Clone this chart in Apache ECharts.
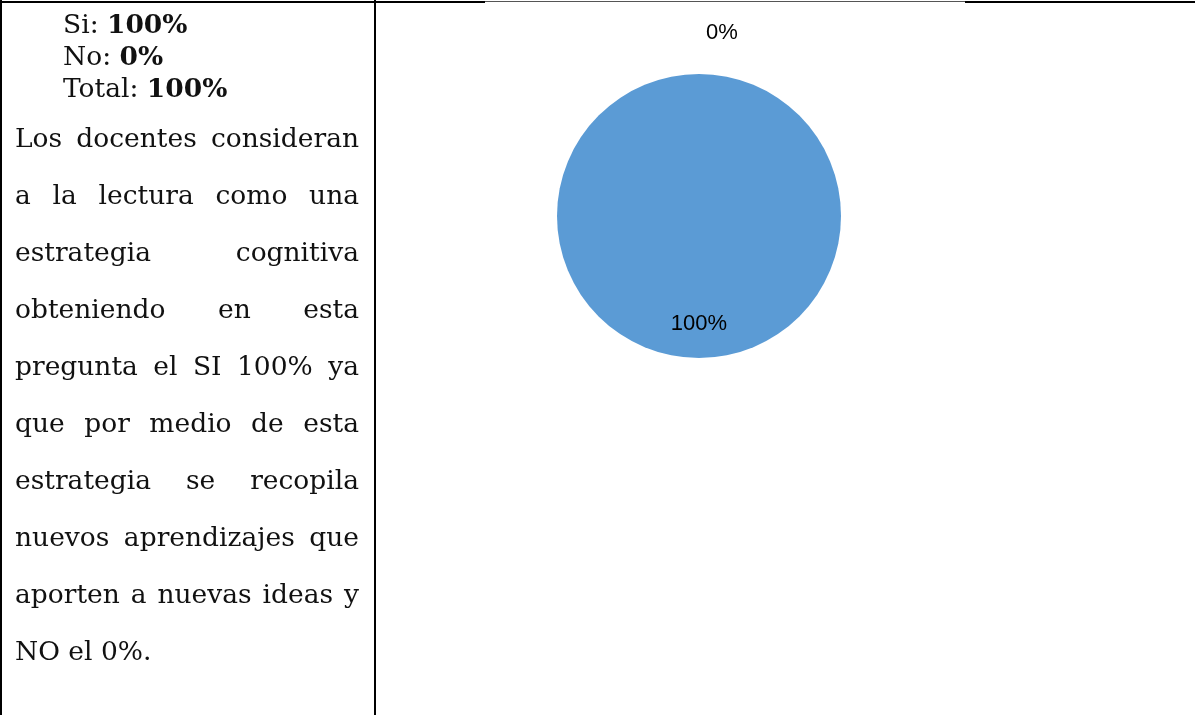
<!DOCTYPE html>
<html>
<head>
<meta charset="utf-8">
<script src="https://cdn.jsdelivr.net/npm/echarts@6/dist/echarts.min.js"></script>
<style>
	html, body { margin: 0; padding: 0; background: #fff; }
	#wrap { position: relative; width: 1195px; height: 715px; overflow: hidden; }
	#pie { position: absolute; left: 0; top: 0; width: 1195px; height: 715px; }
	.line { position: absolute; background: #000; }
	.txt { position: absolute; font-family: "DejaVu Serif", serif; font-size: 26.5px; color: #111; white-space: nowrap; }
	.head div { height: 32px; line-height: 32px; }
	.para div { height: 57px; line-height: 57px; width: 344px; text-align: justify; text-align-last: justify; }
	.para div.last { text-align: left; text-align-last: left; }
</style>
</head>
<body>
<div id="wrap">
	<div id="pie"></div>
	<!-- bordes de la tabla -->
	<div class="line" style="left:0;top:1px;width:485px;height:2px;"></div>
	<div class="line" style="left:485px;top:1px;width:480px;height:1px;background:#555;"></div>
	<div class="line" style="left:965px;top:1px;width:230px;height:2px;"></div>
	<div class="line" style="left:0;top:0;width:2px;height:715px;"></div>
	<div class="line" style="left:374px;top:0;width:2px;height:715px;"></div>
	<div class="txt head" id="head" style="left:63px;top:8px;"></div>
	<div class="txt para" id="para" style="left:15px;top:109px;"></div>
</div>
<script>
	// datos del grafico
	var names = ['Si', 'No'];
	var values = [100, 0];
	var colors = ['#5b9bd5', '#ed7d31'];
	var totalLabel = 'Total';

	// texto de la columna izquierda (una entrada por renglon)
	var paraLines = [
		'Los docentes consideran',
		'a la lectura como una',
		'estrategia cognitiva',
		'obteniendo en esta',
		'pregunta el SI 100% ya',
		'que por medio de esta',
		'estrategia se recopila',
		'nuevos aprendizajes que',
		'aporten a nuevas ideas y',
		'NO el 0%.'
	];

	var total = 0;
	for (var i = 0; i < values.length; i++) {
		total += values[i];
	}
	var head = '';
	for (var i = 0; i < names.length; i++) {
		head += '<div>' + names[i] + ': <b>' + values[i] + '%</b></div>';
	}
	head += '<div>' + totalLabel + ': <b>' + total + '%</b></div>';
	document.getElementById('head').innerHTML = head;

	var para = '';
	for (var i = 0; i < paraLines.length; i++) {
		para += '<div' + (i == paraLines.length - 1 ? ' class="last"' : '') + '>' + paraLines[i] + '</div>';
	}
	document.getElementById('para').innerHTML = para;

	// 饼图
	var chartPie = echarts.init(document.getElementById('pie'));
	var pieData = [];
	for (var i = 0; i < names.length; i++) {
		var item = {
			name: names[i],
			value: values[i],
			itemStyle: { color: colors[i] }
		};
		if (i == 0) {
			item.label = { position: 'inside', offset: [0, 34] };
		} else {
			item.label = { position: 'outside' };
			item.labelLine = { show: false, length: 41, length2: 2 };
		}
		pieData.push(item);
	}
	var pie = {
		animation: false,
		series: [{
			name: 'respuesta',
			type: 'pie',
			center: [699, 216],
			radius: 142,
			startAngle: 90,
			avoidLabelOverlap: false,
			minShowLabelAngle: 0,
			silent: true,
			itemStyle: { borderWidth: 0 },
			label: {
				show: true,
				formatter: '{c}%',
				color: '#000',
				fontFamily: 'Liberation Sans',
				fontSize: 22
			},
			data: pieData
		}]
	};
	chartPie.setOption(pie);
</script>
</body>
</html>
